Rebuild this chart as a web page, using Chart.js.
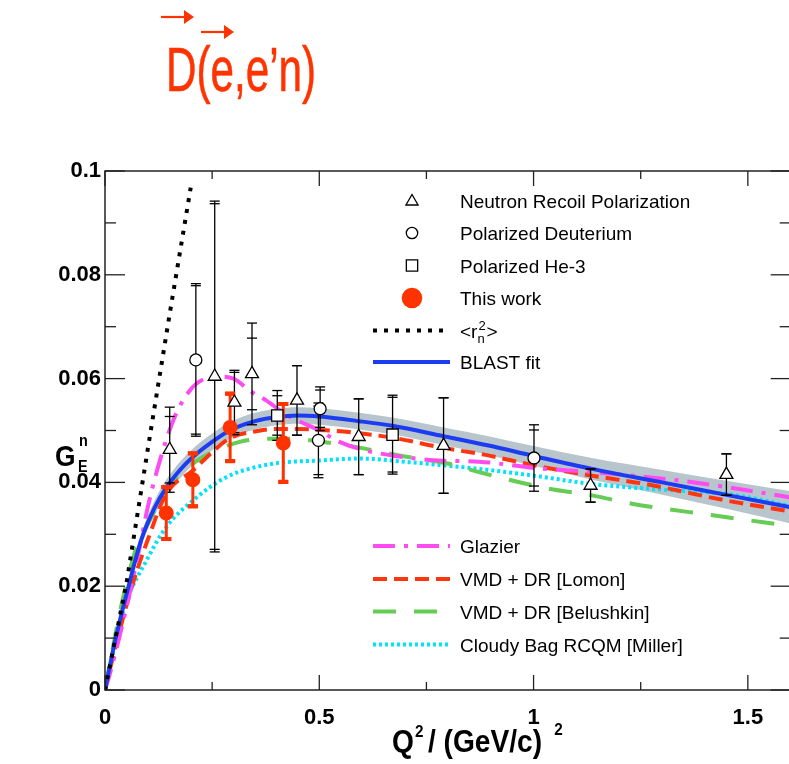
<!DOCTYPE html>
<html>
<head>
<meta charset="utf-8">
<script src="https://cdn.jsdelivr.net/npm/chart.js@4.4.0/dist/chart.umd.min.js"></script>
<style>
  html, body { margin: 0; padding: 0; background: #fff; overflow: hidden; }
  canvas { display: block; }
</style>
</head>
<body>
<canvas id="chart" width="800" height="764"></canvas>
<script>
// axis ticks
const xTickLabels = ['0', '0.5', '1', '1.5'];
const yTickLabels = ['0', '0.02', '0.04', '0.06', '0.08', '0.1'];

// data points
const nrpX = [0.151, 0.256, 0.302, 0.343, 0.448, 0.592, 0.790, 1.133, 1.450];
const nrpY = [0.0463, 0.0604, 0.0554, 0.0609, 0.0558, 0.0488, 0.0471, 0.0394, 0.0415];
const nrpErrTot = [0.0082, 0.0338, 0.0062, 0.0098, 0.0067, 0.0073, 0.0092, 0.0032, 0.0040];
const nrpErrStat = [0.0064, 0.0333, 0.0058, 0.0069, 0.0067, 0.0073, 0.0092, 0.0032, 0.0040];

const deutX = [0.212, 0.498, 0.502, 1.001];
const deutY = [0.0636, 0.0481, 0.0542, 0.0447];
const deutErrTot = [0.0147, 0.0072, 0.0042, 0.0064];
const deutErrStat = [0.0143, 0.0066, 0.0036, 0.0054];

const he3X = [0.402, 0.671];
const he3Y = [0.0529, 0.0492];
const he3ErrTot = [0.0048, 0.0076];
const he3ErrStat = [0.0038, 0.0072];

const thisX = [0.143, 0.205, 0.292, 0.416];
const thisY = [0.0341, 0.0405, 0.0506, 0.0476];
const thisErr = [0.0050, 0.0051, 0.0065, 0.0075];

// theory curves
const rnX = [0, 0.05, 0.10, 0.15, 0.20];
const rnY = [0, 0.0205, 0.0465, 0.0720, 0.0968];

const blastX = [0, 0.025, 0.055, 0.085, 0.115, 0.143, 0.175, 0.205, 0.25, 0.291, 0.35, 0.4, 0.45, 0.5, 0.593, 0.67, 0.79, 0.895, 1.0, 1.136, 1.3, 1.45, 1.6];
const blastY = [0, 0.0100, 0.0200, 0.0290, 0.0350, 0.0390, 0.0424, 0.0449, 0.0478, 0.0500, 0.0518, 0.0526, 0.0529, 0.0527, 0.0518, 0.0509, 0.0489, 0.0471, 0.0451, 0.0426, 0.0400, 0.0376, 0.0352];
const blastBand = [0, 0.0005, 0.0009, 0.0012, 0.0014, 0.0015, 0.0016, 0.0016, 0.0016, 0.0016, 0.0016, 0.0016, 0.0016, 0.0016, 0.0016, 0.0016, 0.0017, 0.0018, 0.0019, 0.0021, 0.0024, 0.0027, 0.0031];

const glazierX = [0, 0.012, 0.047, 0.081, 0.1, 0.128, 0.159, 0.185, 0.213, 0.26, 0.3, 0.337, 0.376, 0.42, 0.45, 0.5, 0.547, 0.6, 0.67, 0.78, 0.872, 1.0, 1.136, 1.337, 1.45, 1.6];
const glazierY = [0, 0.0033, 0.0148, 0.0276, 0.0353, 0.0442, 0.0519, 0.0562, 0.0590, 0.0604, 0.0600, 0.0577, 0.0558, 0.0532, 0.0519, 0.0500, 0.0478, 0.0463, 0.0452, 0.0442, 0.0440, 0.0428, 0.0420, 0.0404, 0.0391, 0.0371];

const lomonX = [0, 0.025, 0.063, 0.1, 0.143, 0.205, 0.25, 0.291, 0.35, 0.4, 0.453, 0.5, 0.57, 0.686, 0.779, 0.888, 1.0, 1.136, 1.26, 1.45, 1.6];
const lomonY = [0, 0.0085, 0.0200, 0.0290, 0.0378, 0.0423, 0.0458, 0.0485, 0.0498, 0.0503, 0.0503, 0.0501, 0.0497, 0.0484, 0.0468, 0.0453, 0.0433, 0.0413, 0.0397, 0.0365, 0.0344];

const belX = [0, 0.031, 0.05, 0.074, 0.1, 0.143, 0.205, 0.25, 0.314, 0.38, 0.438, 0.5, 0.593, 0.686, 0.802, 0.872, 1.035, 1.136, 1.229, 1.415, 1.6];
const belY = [0, 0.0135, 0.0205, 0.0276, 0.0320, 0.0385, 0.0436, 0.0458, 0.0478, 0.0484, 0.0484, 0.0479, 0.0467, 0.0452, 0.0436, 0.0420, 0.0388, 0.0375, 0.0359, 0.0337, 0.0316];

const millerX = [0, 0.025, 0.05, 0.097, 0.143, 0.205, 0.283, 0.391, 0.5, 0.593, 0.709, 0.826, 0.895, 1.0, 1.136, 1.3, 1.45, 1.6];
const millerY = [0, 0.0095, 0.0170, 0.0250, 0.0314, 0.0365, 0.0410, 0.0436, 0.0442, 0.0446, 0.0439, 0.0430, 0.0424, 0.0413, 0.0397, 0.0386, 0.0378, 0.0355];

const pointLegend = ['Neutron Recoil Polarization', 'Polarized Deuterium', 'Polarized He-3', 'This work'];
const curveLegend = ['Glazier', 'VMD + DR [Lomon]', 'VMD + DR [Belushkin]', 'Cloudy Bag RCQM [Miller]'];

const RED = '#ff3300';
const toXY = (xs, ys) => xs.map((x, i) => ({ x: x, y: ys[i] }));

function curve(label, xs, ys, color, dash, order) {
  return {
    label: label, data: toXY(xs, ys), borderColor: color, borderWidth: 4,
    borderDash: dash, borderCapStyle: 'butt', pointRadius: 0, fill: false,
    cubicInterpolationMode: 'monotone', order: order
  };
}

const datasets = [
  { label: pointLegend[0], data: toXY(nrpX, nrpY), showLine: false, pointStyle: 'triangle',
    pointRadius: 7.5, borderColor: '#000', backgroundColor: '#fff', pointBorderWidth: 1.3,
    errTot: nrpErrTot, errStat: nrpErrStat, errColor: '#000', order: 0 },
  { label: pointLegend[1], data: toXY(deutX, deutY), showLine: false, pointStyle: 'circle',
    pointRadius: 6, borderColor: '#000', backgroundColor: '#fff', pointBorderWidth: 1.3,
    errTot: deutErrTot, errStat: deutErrStat, errColor: '#000', order: 0 },
  { label: pointLegend[2], data: toXY(he3X, he3Y), showLine: false, pointStyle: 'rect',
    pointRadius: 8, borderColor: '#000', backgroundColor: '#fff', pointBorderWidth: 1.3,
    errTot: he3ErrTot, errStat: he3ErrStat, errColor: '#000', order: 0 },
  { label: pointLegend[3], data: toXY(thisX, thisY), showLine: false, pointStyle: 'circle',
    pointRadius: 7.5, borderColor: RED, backgroundColor: RED, pointBorderWidth: 0,
    errTot: thisErr, errStat: thisErr, errColor: RED, order: 0 },
  Object.assign(curve('<r2>', rnX, rnY, '#000', [4, 7], 1), { cubicInterpolationMode: 'default', tension: 0 }),
  curve('BLAST fit', blastX, blastY, '#1c3cf2', [], 1),
  curve(curveLegend[0], glazierX, glazierY, '#ff4cf0', [22, 9, 4, 9], 2),
  curve(curveLegend[1], lomonX, lomonY, '#ff3510', [14, 7], 2),
  curve(curveLegend[2], belX, belY, '#66cc55', [23, 18], 2),
  curve(curveLegend[3], millerX, millerY, '#00e2ff', [3, 3], 2),
  { label: 'band hi', data: blastX.map((x, i) => ({ x: x, y: blastY[i] + blastBand[i] })),
    borderColor: 'transparent', borderWidth: 0, pointRadius: 0, fill: false,
    cubicInterpolationMode: 'monotone', order: 3 },
  { label: 'band lo', data: blastX.map((x, i) => ({ x: x, y: blastY[i] - blastBand[i] })),
    borderColor: 'transparent', borderWidth: 0, pointRadius: 0, fill: '-1',
    backgroundColor: '#b9c5cd', cubicInterpolationMode: 'monotone', order: 3 }
];

const FONT = "'Liberation Sans', Arial, sans-serif";

function seg(ctx, x1, y1, x2, y2) {
  ctx.beginPath(); ctx.moveTo(x1, y1); ctx.lineTo(x2, y2); ctx.stroke();
}

// text squeezed horizontally, returns the drawn width
function squeeze(ctx, text, x, y, font, sx) {
  ctx.save();
  ctx.font = font;
  ctx.translate(x, y);
  ctx.scale(sx, 1);
  ctx.fillText(text, 0, 0);
  const w = ctx.measureText(text).width * sx;
  ctx.restore();
  return w;
}

function drawErrorBars(chart) {
  const { ctx } = chart;
  const x = chart.scales.x, y = chart.scales.y;
  ctx.save();
  chart.data.datasets.forEach(ds => {
    if (!ds.errTot) return;
    const red = ds.errColor !== '#000';
    ctx.strokeStyle = ds.errColor;
    ds.data.forEach((p, i) => {
      const px = x.getPixelForValue(p.x);
      ctx.lineWidth = red ? 3 : 1.3;
      seg(ctx, px, y.getPixelForValue(p.y + ds.errTot[i]), px, y.getPixelForValue(p.y - ds.errTot[i]));
      ctx.lineWidth = red ? 4 : 1.3;
      [ds.errTot[i], ds.errStat[i]].forEach(e => {
        [1, -1].forEach(s => {
          const py = y.getPixelForValue(p.y + s * e);
          seg(ctx, px - 5, py, px + 5, py);
        });
      });
    });
  });
  ctx.restore();
}

function marker(ctx, style, cx, cy, r, fill, stroke) {
  ctx.save();
  ctx.beginPath();
  if (style === 'triangle') {
    for (let k = 0; k < 3; k++) {
      const a = k * 2 * Math.PI / 3;
      const px = cx + Math.sin(a) * r, py = cy - Math.cos(a) * r;
      if (k === 0) ctx.moveTo(px, py); else ctx.lineTo(px, py);
    }
    ctx.closePath();
  } else if (style === 'rect') {
    const s = r * Math.SQRT1_2;
    ctx.rect(cx - s, cy - s, 2 * s, 2 * s);
  } else {
    ctx.arc(cx, cy, r, 0, 2 * Math.PI);
  }
  ctx.fillStyle = fill; ctx.fill();
  if (stroke) { ctx.strokeStyle = stroke; ctx.lineWidth = 1.3; ctx.stroke(); }
  ctx.restore();
}

function legendLine(ctx, ds, y) {
  ctx.save();
  ctx.strokeStyle = ds.borderColor; ctx.lineWidth = ds.borderWidth;
  ctx.setLineDash(ds.borderDash); ctx.lineCap = 'butt';
  seg(ctx, 373, y, 450, y);
  ctx.restore();
}

function drawFrame(chart) {
  const { ctx, chartArea: a } = chart;
  const x = chart.scales.x, y = chart.scales.y;
  ctx.save();
  ctx.strokeStyle = '#222'; ctx.lineWidth = 1.5;
  ctx.strokeRect(a.left, a.top, a.right - a.left, a.bottom - a.top);
  ctx.lineWidth = 1.3;
  for (let v = 0; v <= 1.6001; v += 0.25) {
    const px = x.getPixelForValue(v);
    const len = Math.abs(v / 0.5 - Math.round(v / 0.5)) < 1e-6 ? 15 : 8;
    seg(ctx, px, a.bottom, px, a.bottom - len);
    seg(ctx, px, a.top, px, a.top + len);
  }
  for (let k = 0; k <= 10; k++) {
    const py = y.getPixelForValue(k * 0.01);
    const len = k % 2 === 0 ? 20 : 11;
    seg(ctx, a.left, py, a.left + len, py);
    seg(ctx, a.right, py, a.right - len, py);
  }
  ctx.restore();
}

function drawTexts(chart) {
  const { ctx } = chart;
  const ds = chart.data.datasets;
  ctx.save();
  ctx.textBaseline = 'alphabetic';

  // main title
  ctx.fillStyle = RED;
  ctx.strokeStyle = RED;
  ctx.save();
  ctx.translate(166, 91);
  ctx.scale(0.67, 1);
  ctx.font = "63px 'Liberation Sans', Arial, sans-serif";
  ctx.lineWidth = 0.6;
  ctx.fillText('D(e,e\u2019n)', 0, 0);
  ctx.strokeText('D(e,e\u2019n)', 0, 0);
  ctx.restore();
  ctx.lineWidth = 2.2;
  [[161, 194, 17], [201, 234, 32]].forEach(([x1, x2, yy]) => {
    seg(ctx, x1, yy, x2 - 8, yy);
    ctx.beginPath();
    ctx.moveTo(x2 - 10, yy - 7); ctx.lineTo(x2, yy); ctx.lineTo(x2 - 10, yy + 7);
    ctx.closePath(); ctx.fill();
  });

  // axis titles
  ctx.fillStyle = '#000';
  squeeze(ctx, 'G', 55, 466, 'bold 30px ' + FONT, 0.88);
  squeeze(ctx, 'n', 79, 446, 'bold 16px ' + FONT, 0.9);
  squeeze(ctx, 'E', 78, 472, 'bold 16px ' + FONT, 0.9);

  let cx = 392;
  cx += squeeze(ctx, 'Q', cx, 752, 'bold 32px ' + FONT, 0.88);
  squeeze(ctx, '2', cx + 1, 737, 'bold 17px ' + FONT, 0.9);
  cx += 14;
  cx += squeeze(ctx, '/ (GeV/c)', cx, 752, 'bold 32px ' + FONT, 0.88);
  squeeze(ctx, '2', cx + 12, 735, 'bold 17px ' + FONT, 0.9);

  // legend, upper group
  ctx.font = '19px ' + FONT;
  const rows = [200.5, 233, 265.5, 298, 330.5, 362];
  marker(ctx, 'triangle', 412, rows[0] + 1, 7, '#fff', '#000');
  marker(ctx, 'circle', 412, rows[1], 5.7, '#fff', '#000');
  marker(ctx, 'rect', 412, rows[2], 8, '#fff', '#000');
  marker(ctx, 'circle', 412, rows[3], 10.3, RED, null);
  for (let i = 0; i < 4; i++) ctx.fillText(pointLegend[i], 460, rows[i] + 7);
  legendLine(ctx, ds[4], rows[4]);
  legendLine(ctx, ds[5], rows[5]);
  ctx.fillText('<r', 460, rows[4] + 7);
  const w = ctx.measureText('<r').width;
  ctx.font = '13px ' + FONT;
  ctx.fillText('2', 460 + w + 1, rows[4] - 1);
  ctx.fillText('n', 460 + w, rows[4] + 12);
  ctx.font = '19px ' + FONT;
  ctx.fillText('>', 460 + w + 9, rows[4] + 7);
  ctx.fillText('BLAST fit', 460, rows[5] + 7);

  // legend, lower group
  const rows2 = [546, 579, 611.5, 644.5];
  for (let i = 0; i < 4; i++) {
    legendLine(ctx, ds[6 + i], rows2[i]);
    ctx.fillText(curveLegend[i], 460, rows2[i] + 7);
  }
  ctx.restore();
}

const decor = {
  id: 'decor',
  beforeDraw(chart) { chart.$errDone = false; },
  beforeDatasetDraw(chart, args) {
    const ds = chart.data.datasets[args.index];
    if (!ds.errTot || chart.$errDone) return;
    chart.$errDone = true;
    drawErrorBars(chart);
  },
  afterDraw(chart) {
    drawFrame(chart);
    drawTexts(chart);
  }
};

const ctx = document.getElementById('chart').getContext('2d');
const chart = new Chart(ctx, {
  type: 'line',
  data: { datasets: datasets },
  options: {
    responsive: false,
    animation: false,
    devicePixelRatio: 1,
    layout: { padding: { top: 171, right: 7, left: 0, bottom: 0 } },
    plugins: { legend: { display: false }, tooltip: { enabled: false }, title: { display: false } },
    scales: {
      x: {
        type: 'linear', min: 0, max: 1.6,
        afterFit: s => { s.height = 74; },
        grid: { display: false, drawTicks: false },
        border: { display: false },
        ticks: {
          stepSize: 0.5, includeBounds: false, padding: 15, color: '#000',
          maxRotation: 0, autoSkip: false,
          font: { family: FONT, size: 22, weight: 'bold' },
          callback: (v, i) => xTickLabels[i]
        }
      },
      y: {
        type: 'linear', min: 0, max: 0.1,
        afterFit: s => { s.width = 105; },
        grid: { display: false, drawTicks: false },
        border: { display: false },
        ticks: {
          stepSize: 0.02, includeBounds: false, padding: 4, color: '#000', autoSkip: false,
          font: { family: FONT, size: 22, weight: 'bold' },
          callback: (v, i) => yTickLabels[i]
        }
      }
    }
  },
  plugins: [decor]
});
</script>
</body>
</html>
